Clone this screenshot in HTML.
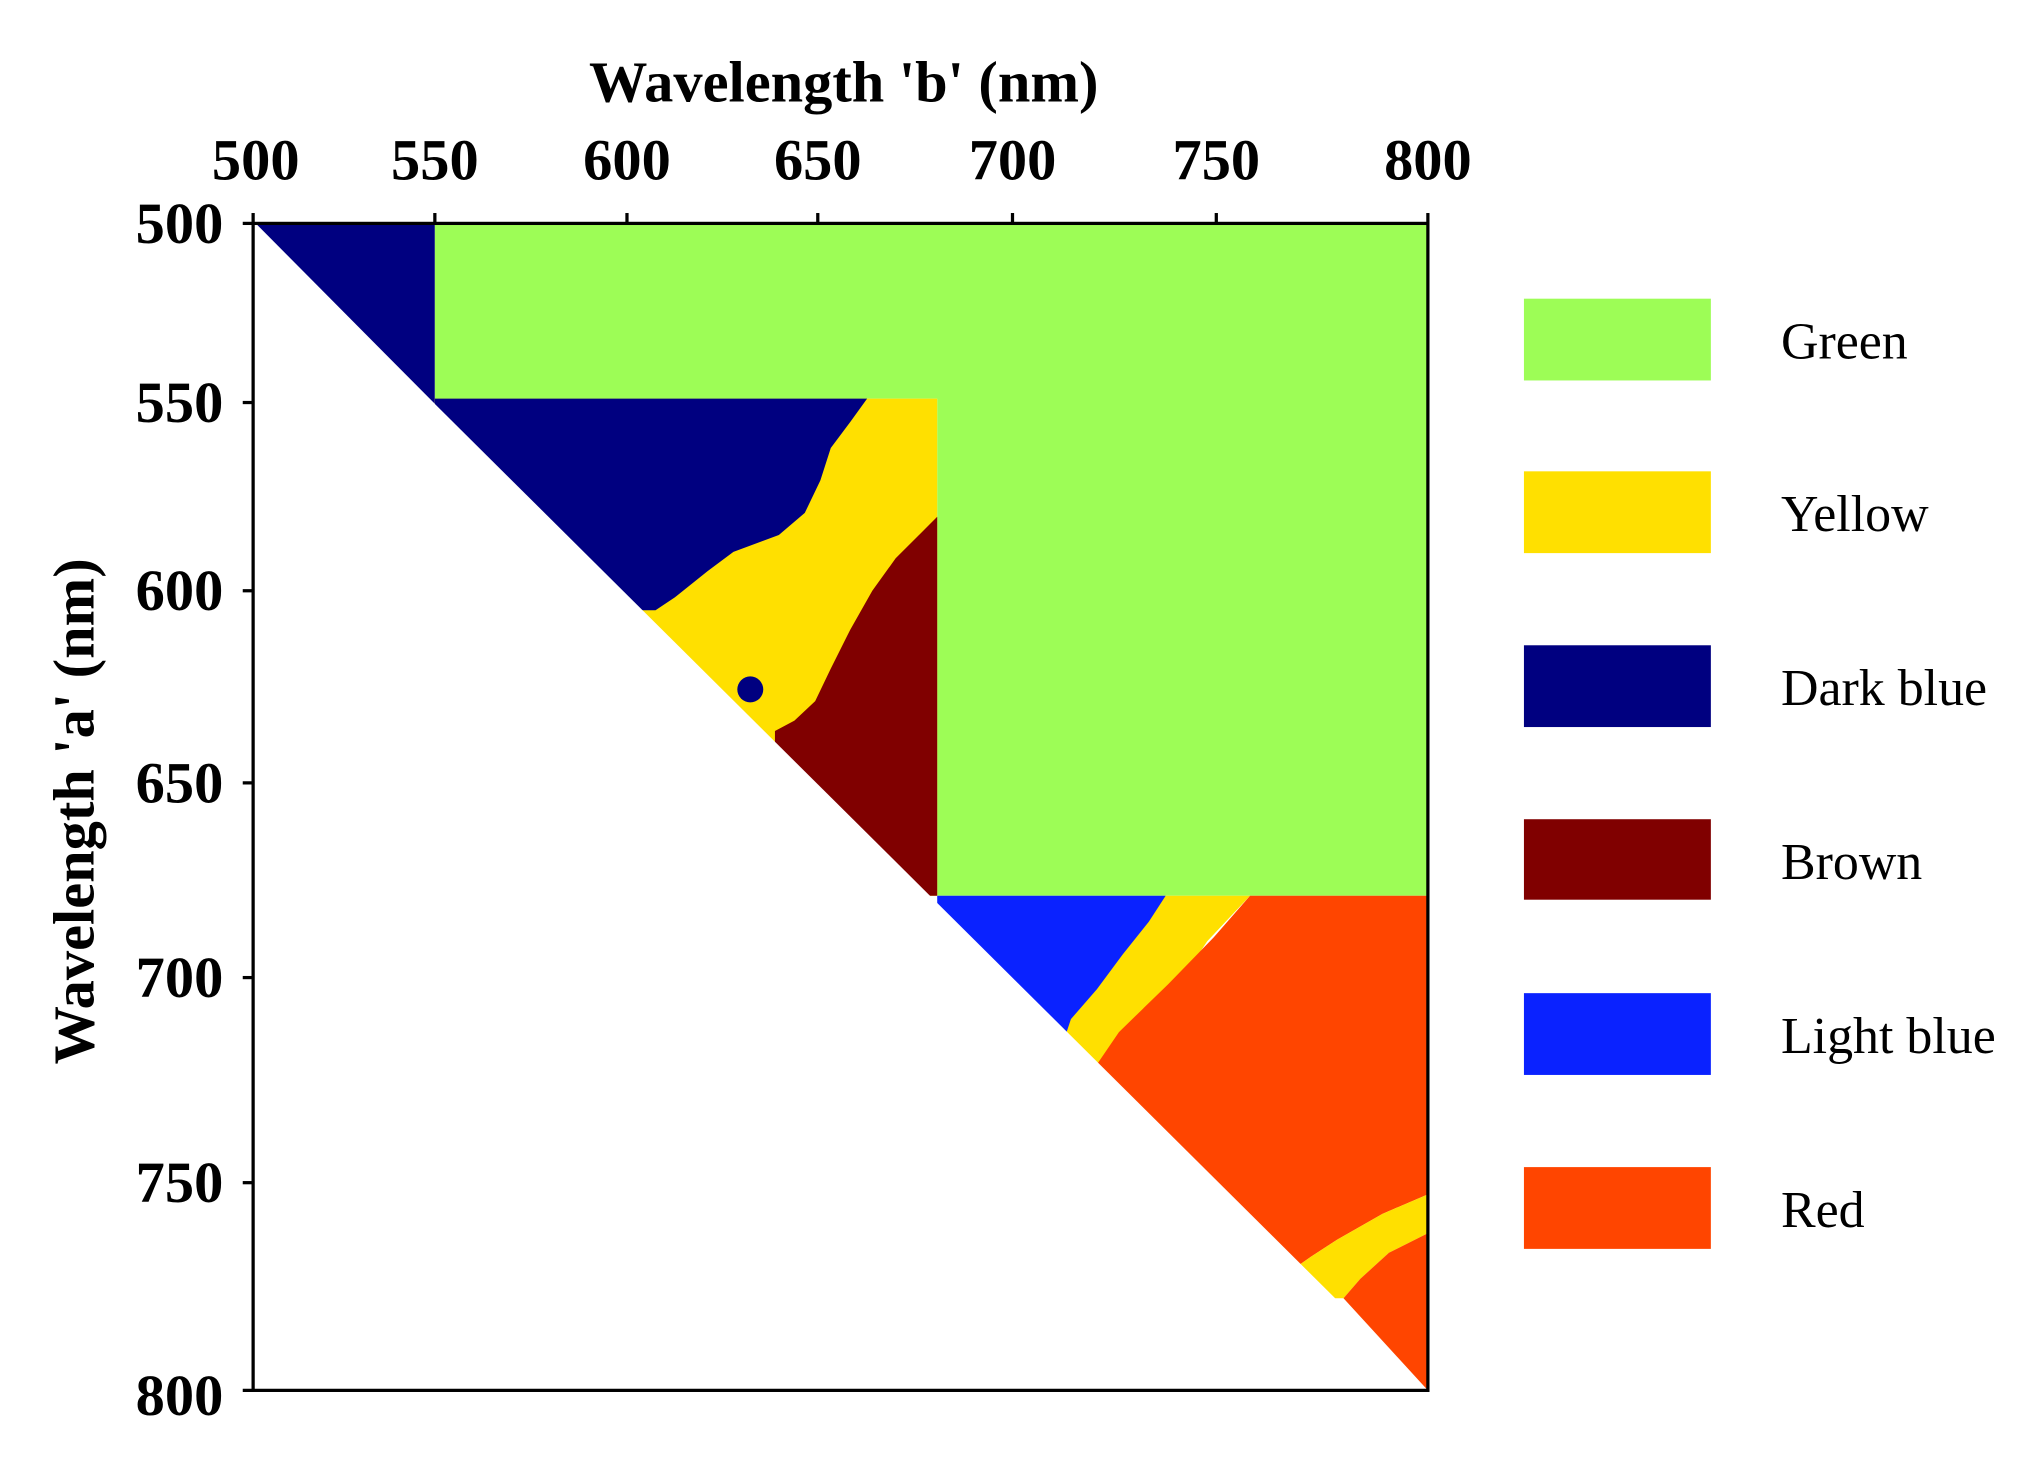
<!DOCTYPE html>
<html><head><meta charset="utf-8"><style>
html,body{margin:0;padding:0;background:#fff;}
svg{display:block;}
.t{font-family:"Liberation Serif",serif;font-weight:bold;font-size:45px;fill:#000;}
.l{font-family:"Liberation Serif",serif;font-size:40px;fill:#000;}
</style></head><body>
<svg width="2025" height="1458" viewBox="0 0 1560 1123" xmlns="http://www.w3.org/2000/svg">
<rect width="1560" height="1123" fill="#fff"/>
<polygon points="197,172 335,172 335,311" fill="#000080"/>
<polygon points="335,172 1100,172 1100,690 722,690 722,307 335,307" fill="#9dfd56"/>
<polygon points="335,307 722,307 722,690 600,690 335,400" fill="#ffe000"/>
<polygon points="335,307 668,307 655,325 640,345 632,370 620,395 600,412 565,425 545,440 520,460 505,470 335,470" fill="#000080"/>
<polygon points="722,398 710,410 690,430 672,455 655,485 640,515 628,540 612,555 597,563 597,690 722,690" fill="#800000"/>
<circle cx="578" cy="531" r="10" fill="#000080"/>
<polygon points="898,690 963,690 930,725 900,770 880,830 815,830 815,790" fill="#ffe000"/>
<polygon points="722,690 898,690 885,710 865,735 845,762 825,785 820,800 722,800" fill="#0a22ff"/>
<polygon points="963,690 1100,690 1100,920 1065,935 1030,955 1010,968 1000,975 845,820 862,795 900,758 935,722" fill="#ff4500"/>
<polygon points="1100,920 1100,950 1070,965 1048,985 1035,1000 1000,1000 1000,975 1010,968 1030,955 1065,935" fill="#ffe000"/>
<polygon points="1100,950 1100,1071 1035,1000 1048,985 1070,965" fill="#ff4500"/>
<polygon points="195,172 1100,1071 195,1071" fill="#fff"/>
<rect x="195" y="172" width="905" height="899" fill="none" stroke="#000" stroke-width="2.5"/>
<g stroke="#000" stroke-width="2.5">
<line x1="195" y1="172" x2="195" y2="164"/><line x1="335" y1="172" x2="335" y2="164"/>
<line x1="483" y1="172" x2="483" y2="164"/><line x1="630" y1="172" x2="630" y2="164"/>
<line x1="780" y1="172" x2="780" y2="164"/><line x1="937" y1="172" x2="937" y2="164"/>
<line x1="1100" y1="172" x2="1100" y2="164"/>
<line x1="195" y1="172" x2="187" y2="172"/><line x1="195" y1="310" x2="187" y2="310"/>
<line x1="195" y1="455" x2="187" y2="455"/><line x1="195" y1="603" x2="187" y2="603"/>
<line x1="195" y1="753" x2="187" y2="753"/><line x1="195" y1="911" x2="187" y2="911"/>
<line x1="195" y1="1071" x2="187" y2="1071"/>
</g>
<g class="t" text-anchor="middle">
<text x="197" y="138">500</text><text x="335" y="138">550</text><text x="483" y="138">600</text>
<text x="630" y="138">650</text><text x="780" y="138">700</text><text x="937" y="138">750</text><text x="1100" y="138">800</text>
</g>
<g class="t" text-anchor="end">
<text x="172" y="187">500</text><text x="172" y="325">550</text><text x="172" y="470">600</text>
<text x="172" y="618">650</text><text x="172" y="768">700</text><text x="172" y="926">750</text><text x="172" y="1090">800</text>
</g>
<text class="t" x="650" y="78" text-anchor="middle">Wavelength 'b' (nm)</text>
<text class="t" transform="translate(72,625) rotate(-90)" text-anchor="middle">Wavelength 'a' (nm)</text>
<rect x="1174" y="230" width="144" height="63" fill="#9dfd56"/>
<rect x="1174" y="363" width="144" height="63" fill="#ffe000"/>
<rect x="1174" y="497" width="144" height="63" fill="#000080"/>
<rect x="1174" y="631" width="144" height="62" fill="#800000"/>
<rect x="1174" y="765" width="144" height="63" fill="#0a22ff"/>
<rect x="1174" y="899" width="144" height="63" fill="#ff4500"/>
<g class="l">
<text x="1372" y="276">Green</text><text x="1372" y="409">Yellow</text><text x="1372" y="543">Dark blue</text>
<text x="1372" y="677">Brown</text><text x="1372" y="811">Light blue</text><text x="1372" y="945">Red</text>
</g>
</svg>
</body></html>
